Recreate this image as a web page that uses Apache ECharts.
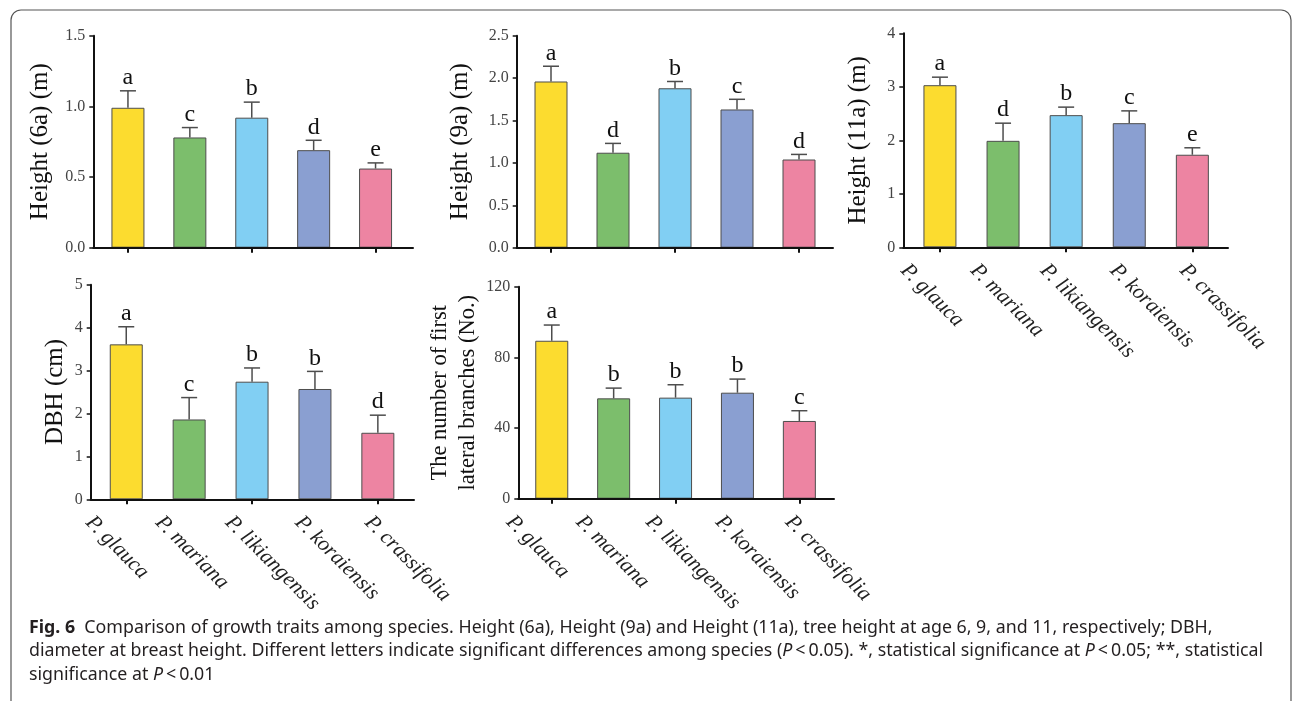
<!DOCTYPE html>
<html>
<head>
<meta charset="utf-8">
<title>Fig. 6 growth traits</title>
<script src="https://cdn.jsdelivr.net/npm/echarts@6/dist/echarts.min.js"></script>
<style>
html, body { margin: 0; padding: 0; background: #fff; }
#main { width: 1293px; height: 701px; }
</style>
</head>
<body>
<div id="main"></div>
<script>
// species + colours
var species = ["P. glauca", "P. mariana", "P. likiangensis", "P. koraiensis", "P. crassifolia"];
var barColors = ["#fcdc2f", "#7cbe6c", "#81cff3", "#8a9fd1", "#ed84a2"];

// Height (6a)
var h6Mean = [0.99, 0.78, 0.92, 0.69, 0.56];
var h6Sd = [0.12, 0.07, 0.11, 0.07, 0.04];
var h6Letters = ["a", "c", "b", "d", "e"];
var h6Ticks = [0, 1.5, 0.5];

// Height (9a)
var h9Mean = [1.96, 1.12, 1.88, 1.63, 1.04];
var h9Sd = [0.18, 0.11, 0.08, 0.12, 0.06];
var h9Letters = ["a", "d", "b", "c", "d"];
var h9Ticks = [0, 2.5, 0.5];

// Height (11a)
var h11Mean = [3.03, 1.99, 2.47, 2.32, 1.73];
var h11Sd = [0.15, 0.33, 0.15, 0.23, 0.13];
var h11Letters = ["a", "d", "b", "c", "e"];
var h11Ticks = [0, 4, 1];

// DBH
var dbhMean = [3.61, 1.86, 2.74, 2.57, 1.55];
var dbhSd = [0.41, 0.51, 0.32, 0.41, 0.41];
var dbhLetters = ["a", "c", "b", "b", "d"];
var dbhTicks = [0, 5, 1];

// first lateral branches
var brMean = [89.4, 56.8, 57.2, 60.0, 44.0];
var brSd = [8.9, 5.8, 7.3, 7.7, 5.8];
var brLetters = ["a", "b", "b", "b", "c"];
var brTicks = [0, 120, 40];

var serif = "'Liberation Serif', 'DejaVu Serif', serif";
var sans = "'Noto Sans', sans-serif";

// layout of each panel (pixels)
var panels = [
    { mean: h6Mean, sd: h6Sd, letters: h6Letters, ticks: h6Ticks, digits: 1, name: "Height (6a) (m)",
      axisX: 93.3, axisEnd: 413, barLeft: 97, band: 61.9, top: 35.7, bottom: 247.7, nameGap: 39, labelLeft: null },
    { mean: h9Mean, sd: h9Sd, letters: h9Letters, ticks: h9Ticks, digits: 1, name: "Height (9a) (m)",
      axisX: 516.7, axisEnd: 833, barLeft: 520, band: 62, top: 35.7, bottom: 247.7, nameGap: 42, labelLeft: null },
    { mean: h11Mean, sd: h11Sd, letters: h11Letters, ticks: h11Ticks, digits: 0, name: "Height (11a) (m)",
      axisX: 903.3, axisEnd: 1228, barLeft: 908.4, band: 63.1, top: 33.3, bottom: 247.3, nameGap: 31, labelLeft: 869 },
    { mean: dbhMean, sd: dbhSd, letters: dbhLetters, ticks: dbhTicks, digits: 0, name: "DBH (cm)",
      axisX: 90.7, axisEnd: 414, barLeft: 94.8, band: 62.9, top: 284.7, bottom: 499.3, nameGap: 21, labelLeft: 54 },
    { mean: brMean, sd: brSd, letters: brLetters, ticks: brTicks, digits: 0, name: "The number of first\nlateral branches (No.)",
      axisX: 518.3, axisEnd: 834, barLeft: 520.8, band: 61.9, top: 286.7, bottom: 498.7, nameGap: 17, labelLeft: 474.5 }
];
var labelBand = 69.8;

var option = {
    backgroundColor: '#fff',
    animation: false,
    title: {
        left: 24,
        top: 611,
        text: "{b|Fig. 6}  Comparison of growth traits among species. Height (6a), Height (9a) and Height (11a), tree height at age 6, 9, and 11, respectively; DBH,\n" +
              "diameter at breast height. Different letters indicate significant differences among species ({i|P}\u2009<\u20090.05). *, statistical significance at {i|P}\u2009<\u20090.05; **, statistical\n" +
              "significance at {i|P}\u2009<\u20090.01",
        textStyle: {
            fontFamily: sans,
            fontSize: 17.8,
            fontWeight: 'normal',
            color: '#231f20',
            lineHeight: 23.5,
            rich: {
                b: { fontFamily: sans, fontSize: 17.8, fontWeight: 'bold', color: '#231f20', lineHeight: 23.5 },
                i: { fontFamily: sans, fontSize: 17.8, fontStyle: 'italic', color: '#231f20', lineHeight: 23.5 }
            }
        }
    },
    graphic: [{
        type: 'rect',
        shape: { x: 11, y: 10, width: 1280, height: 760, r: [10, 10, 0, 0] },
        style: { fill: 'none', stroke: '#555', lineWidth: 1.2 },
        silent: true
    }],
    grid: [],
    xAxis: [],
    yAxis: [],
    series: []
};

function errRenderer(letters) {
    return function (params, api) {
        var base = api.coord([api.value(0), api.value(1)]);
        var top = api.coord([api.value(0), api.value(2)]);
        var half = 8;
        return {
            type: 'group',
            children: [
                { type: 'line', shape: { x1: base[0], y1: base[1], x2: top[0], y2: top[1] },
                  style: { stroke: '#4d4d4d', lineWidth: 1.5 } },
                { type: 'line', shape: { x1: top[0] - half, y1: top[1], x2: top[0] + half, y2: top[1] },
                  style: { stroke: '#4d4d4d', lineWidth: 1.5 } },
                { type: 'text', x: top[0], y: top[1] - 1,
                  style: { text: letters[params.dataIndex], fill: '#111', font: "24px " + serif,
                           align: 'center', verticalAlign: 'bottom' } }
            ]
        };
    };
}

function addPanel(p) {
    var height = p.bottom - p.top;
    var min = p.ticks[0], max = p.ticks[1], step = p.ticks[2];

    // frame grid: axis lines, y ticks, y name
    var gFrame = option.grid.length;
    option.grid.push({ left: p.axisX, top: p.top, width: p.axisEnd - p.axisX, height: height, outerBoundsMode: 'none' });
    option.xAxis.push({
        gridIndex: gFrame, type: 'value', min: 0, max: 1, z: 5,
        axisLine: { show: true, lineStyle: { color: '#111', width: 2 } },
        axisTick: { show: false }, axisLabel: { show: false }, splitLine: { show: false }
    });
    option.yAxis.push({
        gridIndex: gFrame, type: 'value', min: min, max: max, interval: step, z: 5,
        name: p.name, nameLocation: 'middle', nameGap: p.nameGap,
        nameTextStyle: { fontFamily: serif, fontSize: p.name.indexOf('\n') > 0 ? 22.5 : 25, color: '#111', lineHeight: 28 },
        axisLine: { show: true, lineStyle: { color: '#111', width: 2 } },
        axisTick: { show: true, length: 4, lineStyle: { color: '#111', width: 1.5 } },
        axisLabel: { margin: 8, fontFamily: serif, fontSize: 16, color: '#444',
            formatter: function (v) { return v.toFixed(p.digits); } },
        splitLine: { show: false }
    });

    // bar grid
    var gBar = option.grid.length;
    option.grid.push({ left: p.barLeft, top: p.top, width: p.band * 5, height: height, outerBoundsMode: 'none' });
    option.xAxis.push({
        gridIndex: gBar, type: 'category', data: species, z: 5,
        axisLine: { show: false },
        axisTick: { show: true, alignWithLabel: true, length: 5, lineStyle: { color: '#111', width: 2 } },
        axisLabel: { show: false }
    });
    option.yAxis.push({ gridIndex: gBar, type: 'value', min: min, max: max, show: false });

    option.series.push({
        type: 'bar', xAxisIndex: gBar, yAxisIndex: gBar, barWidth: 33,
        data: p.mean.map(function (v, i) {
            return { value: v, itemStyle: { color: barColors[i], borderColor: '#4d4d4d', borderWidth: 1 } };
        })
    });
    option.series.push({
        type: 'custom', xAxisIndex: gBar, yAxisIndex: gBar, z: 4,
        renderItem: errRenderer(p.letters),
        data: p.mean.map(function (v, i) { return [i, v, v + p.sd[i]]; })
    });

    // species labels (own axis, they sit wider apart than the bars)
    if (p.labelLeft !== null) {
        var gLab = option.grid.length;
        option.grid.push({ left: p.labelLeft, top: p.top, width: labelBand * 5, height: height, outerBoundsMode: 'none' });
        option.xAxis.push({
            gridIndex: gLab, type: 'category', data: species,
            axisLine: { show: false }, axisTick: { show: false },
            axisLabel: { interval: 0, rotate: -45, margin: 20, fontFamily: serif, fontStyle: 'italic',
                fontSize: 21.5, color: '#222' }
        });
        option.yAxis.push({ gridIndex: gLab, type: 'value', min: min, max: max, show: false });
    }
}

for (var k = 0; k < panels.length; k++) {
    addPanel(panels[k]);
}

var myChart = echarts.init(document.getElementById('main'), null, { renderer: 'canvas' });
myChart.setOption(option);
</script>
</body>
</html>
